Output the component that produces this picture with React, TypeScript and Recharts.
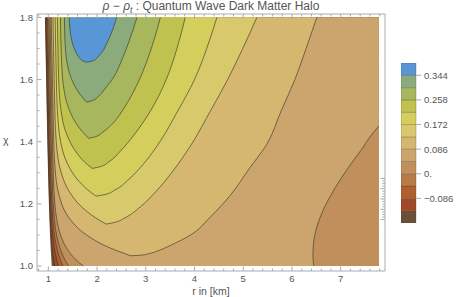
import React from "react";
import { Area, Bar, BarChart, ComposedChart, XAxis, YAxis } from "recharts";

// colour bands, highest level first
const bandColors = [
  "#5896d6", "#8cab7c", "#a6b75e", "#c0c24f", "#d4cf5c", "#d8c96c", "#d5b76f",
  "#cba56d", "#c08f5c", "#b87a48", "#b0602f", "#a04827", "#6a5038",
];
// level boundaries of the bands, top to bottom
const bandEdges = [0.387, 0.344, 0.301, 0.258, 0.215, 0.172, 0.129, 0.086, 0.043, 0, -0.043, -0.086, -0.129, -0.172];
const barTicks = [-0.086, 0, 0.086, 0.172, 0.258, 0.344];

const xMajor = [1, 2, 3, 4, 5, 6, 7];
const xMinor = [0.8, 1.2, 1.4, 1.6, 1.8, 2.2, 2.4, 2.6, 2.8, 3.2, 3.4, 3.6, 3.8, 4.2, 4.4, 4.6, 4.8, 5.2, 5.4, 5.6, 5.8, 6.2, 6.4, 6.6, 6.8, 7.2, 7.4, 7.6, 7.8];
const yMajor = [1.0, 1.2, 1.4, 1.6, 1.8];
const yMinor = [1.05, 1.1, 1.15, 1.25, 1.3, 1.35, 1.45, 1.5, 1.55, 1.65, 1.7, 1.75];

// left edge of the computed region
const edgeChi = [1.0, 1.1, 1.2, 1.4, 1.6, 1.8];
const edgeR = [1.07, 1.035, 1.012, 0.98, 0.955, 0.93];

// contours hugging the left edge (r as a function of chi)
const leftChi = [1.0, 1.01, 1.02, 1.035, 1.05, 1.075, 1.1, 1.15, 1.2, 1.3, 1.4, 1.55, 1.8];
const lvlM129 = [1.13, 1.12, 1.11, 1.098, 1.087, 1.072, 1.059, 1.042, 1.028, 1.01, 0.995, 0.977, 0.945];
const lvlM086 = [1.21, 1.191, 1.174, 1.153, 1.134, 1.11, 1.091, 1.067, 1.05, 1.03, 1.015, 0.997, 0.965];
const lvlM043 = [1.3, 1.272, 1.246, 1.214, 1.187, 1.152, 1.125, 1.093, 1.073, 1.05, 1.035, 1.017, 0.985];
const lvl0 = [1.42, 1.378, 1.341, 1.295, 1.255, 1.206, 1.169, 1.125, 1.101, 1.076, 1.06, 1.042, 1.01];
const lvl043 = [1.72, 1.64, 1.569, 1.48, 1.407, 1.315, 1.25, 1.173, 1.134, 1.102, 1.085, 1.067, 1.035];

// 0.043 contour in the lower right corner
const lowChi = [1.0, 1.03, 1.07, 1.12, 1.18, 1.25, 1.32, 1.38, 1.42, 1.45];
const lowR = [6.45, 6.43, 6.44, 6.5, 6.64, 6.88, 7.17, 7.45, 7.62, 7.78];

// U-shaped contours: chi samples, left branch r, right branch r
const u344Chi = [1.656, 1.66, 1.67, 1.69, 1.72, 1.76, 1.8];
const u344L = [1.79, 1.71, 1.64, 1.56, 1.49, 1.445, 1.43];
const u344R = [1.79, 1.91, 2.0, 2.11, 2.21, 2.32, 2.4];

const u301Chi = [1.527, 1.532, 1.545, 1.57, 1.61, 1.66, 1.72, 1.8];
const u301L = [1.79, 1.76, 1.688, 1.576, 1.456, 1.379, 1.343, 1.33];
const u301R = [1.79, 1.9, 2.02, 2.16, 2.35, 2.5, 2.65, 2.82];

const u258Chi = [1.411, 1.416, 1.43, 1.46, 1.51, 1.58, 1.68, 1.8];
const u258L = [1.83, 1.796, 1.711, 1.567, 1.412, 1.31, 1.266, 1.25];
const u258R = [1.83, 1.965, 2.11, 2.33, 2.56, 2.81, 3.07, 3.3];

const u215Chi = [1.314, 1.32, 1.335, 1.37, 1.42, 1.5, 1.6, 1.7, 1.8];
const u215L = [1.9, 1.854, 1.742, 1.557, 1.386, 1.26, 1.213, 1.197, 1.185];
const u215R = [1.9, 2.07, 2.24, 2.48, 2.75, 3.1, 3.42, 3.64, 3.81];

const u172Chi = [1.225, 1.23, 1.245, 1.28, 1.33, 1.4, 1.5, 1.6, 1.7, 1.8];
const u172L = [1.98, 1.934, 1.811, 1.589, 1.391, 1.252, 1.187, 1.165, 1.152, 1.14];
const u172R = [1.98, 2.16, 2.37, 2.66, 2.96, 3.29, 3.66, 4.0, 4.25, 4.46];

const u129Chi = [1.135, 1.14, 1.155, 1.19, 1.24, 1.3, 1.4, 1.5, 1.6, 1.7, 1.8];
const u129L = [2.19, 2.128, 1.973, 1.686, 1.429, 1.265, 1.163, 1.135, 1.12, 1.107, 1.095];
const u129R = [2.19, 2.35, 2.57, 2.885, 3.21, 3.53, 3.97, 4.33, 4.68, 4.99, 5.28];

const u086Chi = [1.033, 1.035, 1.04, 1.05, 1.066, 1.1, 1.157, 1.227, 1.317, 1.391, 1.5, 1.6, 1.7, 1.8];
const u086L = [2.7, 2.654, 2.57, 2.396, 2.157, 1.784, 1.416, 1.222, 1.137, 1.114, 1.098, 1.085, 1.072, 1.06];
const u086R = [2.7, 2.9, 3.07, 3.27, 3.5, 3.92, 4.32, 4.73, 5.14, 5.48, 5.78, 6.06, 6.29, 6.51];

const X_DOMAIN: [number, number] = [0.768, 7.909];
const Y_DOMAIN: [number, number] = [0.984, 1.811];
const R_EDGE = 7.78;

const FRAME = "#ababab";
const TXT = "#555";
const FONT = "Liberation Sans, Arial, sans-serif";
const LINE = { stroke: "#3b3626", strokeWidth: 0.8, strokeOpacity: 0.8 };

const rows = (chi: number[], r: number[]) => chi.map((c, i) => ({ chi: c, r: r[i] }));
const rangeRows = (chi: number[], lo: number[], hi: number[]) =>
  chi.map((c, i) => ({ chi: c, r: [lo[i], hi[i]] }));

const xTicks = [...xMajor, ...xMinor].sort((a, b) => a - b);
const yTicks = [...yMajor, ...yMinor].sort((a, b) => a - b);

const leftLevels = [
  { data: rows(leftChi, lvlM129), color: bandColors[11] },
  { data: rows(leftChi, lvlM086), color: bandColors[10] },
  { data: rows(leftChi, lvlM043), color: bandColors[9] },
  { data: rows(leftChi, lvl0), color: bandColors[8] },
  { data: rows(leftChi, lvl043), color: bandColors[7] },
];

const uLevels = [
  { data: rangeRows(u086Chi, u086L, u086R), color: bandColors[6] },
  { data: rangeRows(u129Chi, u129L, u129R), color: bandColors[5] },
  { data: rangeRows(u172Chi, u172L, u172R), color: bandColors[4] },
  { data: rangeRows(u215Chi, u215L, u215R), color: bandColors[3] },
  { data: rangeRows(u258Chi, u258L, u258R), color: bandColors[2] },
  { data: rangeRows(u301Chi, u301L, u301R), color: bandColors[1] },
  { data: rangeRows(u344Chi, u344L, u344R), color: bandColors[0] },
];

// one stacked column for the legend: bottom edge, then each band from the lowest up
const nBands = bandColors.length;
const barRow: Record<string, number | string> = { name: "bar", base: bandEdges[nBands] };
for (let i = 0; i < nBands; i++) barRow["b" + i] = bandEdges[i] - bandEdges[i + 1];
const barKeys = bandColors.map((_, i) => nBands - 1 - i);

function BottomTick(p: any) {
  const v = p.payload.value;
  const major = xMajor.includes(v);
  return (
    <g>
      <line x1={p.x} x2={p.x} y1={p.y} y2={p.y - (major ? 4.5 : 2.5)} stroke={FRAME} />
      {major && (
        <text x={p.x} y={p.y + 11} textAnchor="middle" fontFamily={FONT} fontSize={9.5} fill={TXT}>
          {v}
        </text>
      )}
    </g>
  );
}

function TopTick(p: any) {
  const major = xMajor.includes(p.payload.value);
  return <line x1={p.x} x2={p.x} y1={p.y} y2={p.y + (major ? 4.5 : 2.5)} stroke={FRAME} />;
}

function LeftTick(p: any) {
  const v = p.payload.value;
  const major = yMajor.includes(v);
  return (
    <g>
      <line x1={p.x} x2={p.x + (major ? 4.5 : 2.5)} y1={p.y} y2={p.y} stroke={FRAME} />
      {major && (
        <text x={p.x - 4} y={p.y + 3.4} textAnchor="end" fontFamily={FONT} fontSize={9.5} fill={TXT}>
          {v.toFixed(1)}
        </text>
      )}
    </g>
  );
}

function RightTick(p: any) {
  const major = yMajor.includes(p.payload.value);
  return <line x1={p.x} x2={p.x - (major ? 4.5 : 2.5)} y1={p.y} y2={p.y} stroke={FRAME} />;
}

function BarTick(p: any) {
  const v = p.payload.value;
  const label = v === 0 ? "0." : v < 0 ? "\u2212" + Math.abs(v).toFixed(3) : v.toFixed(3);
  return (
    <g>
      <line x1={p.x} x2={p.x + 5} y1={p.y} y2={p.y} stroke={FRAME} />
      <text x={p.x + 8} y={p.y + 3.4} fontFamily={FONT} fontSize={9.5} fill={TXT}>
        {label}
      </text>
    </g>
  );
}

export default function App() {
  return (
    <div style={{ position: "absolute", left: 0, top: 0, width: 463, height: 297, background: "#fff" }}>
      <div
        style={{
          position: "absolute", left: 0, top: 0, width: 422, textAlign: "center",
          fontFamily: FONT, fontSize: 12, lineHeight: "13px", color: TXT, whiteSpace: "nowrap",
        }}
      >
        <i>ρ</i> − <i>ρ</i>
        <i style={{ fontSize: 8.5, position: "relative", top: 3 }}>t</i> : Quantum Wave Dark Matter Halo
      </div>

      <ComposedChart
        layout="vertical"
        width={463}
        height={297}
        data={rows(edgeChi, edgeR)}
        margin={{ top: 13, right: 77, bottom: 25, left: 36 }}
      >
        <XAxis type="number" domain={X_DOMAIN} allowDataOverflow ticks={xTicks} interval={0} height={1}
          tickSize={0} tickMargin={0} tickLine={false} axisLine={{ stroke: FRAME }} tick={(p: any) => <BottomTick {...p} />} />
        <XAxis xAxisId="top" orientation="top" type="number" domain={X_DOMAIN} allowDataOverflow ticks={xTicks}
          interval={0} height={1} tickSize={0} tickMargin={0} tickLine={false} axisLine={{ stroke: FRAME }}
          tick={(p: any) => <TopTick {...p} />} />
        <YAxis type="number" dataKey="chi" domain={Y_DOMAIN} allowDataOverflow reversed ticks={yTicks} interval={0}
          width={1} tickSize={0} tickMargin={0} tickLine={false} axisLine={{ stroke: FRAME }}
          tick={(p: any) => <LeftTick {...p} />} />
        <YAxis yAxisId="right" orientation="right" type="number" domain={Y_DOMAIN} allowDataOverflow reversed
          ticks={yTicks} interval={0} width={1} tickSize={0} tickMargin={0} tickLine={false}
          axisLine={{ stroke: FRAME }} tick={(p: any) => <RightTick {...p} />} />

        <Area dataKey="r" type="monotone" baseValue={R_EDGE} fill={bandColors[12]} fillOpacity={1}
          stroke="none" isAnimationActive={false} />
        {leftLevels.map((l, i) => (
          <Area key={"l" + i} data={l.data} dataKey="r" type="monotone" baseValue={R_EDGE} fill={l.color}
            fillOpacity={1} {...LINE} isAnimationActive={false} />
        ))}
        <Area data={rows(lowChi, lowR)} dataKey="r" type="monotone" baseValue={R_EDGE} fill={bandColors[8]}
          fillOpacity={1} {...LINE} isAnimationActive={false} />
        {uLevels.map((u, i) => (
          <Area key={"u" + i} data={u.data} dataKey="r" type="monotone" fill={u.color} fillOpacity={1}
            {...LINE} isAnimationActive={false} />
        ))}
      </ComposedChart>

      <div style={{ position: "absolute", left: 3, top: 134, fontFamily: FONT, fontSize: 10.5, color: TXT }}>χ</div>
      <div
        style={{
          position: "absolute", left: 0, width: 422, top: 285, textAlign: "center",
          fontFamily: FONT, fontSize: 10.5, lineHeight: "12px", color: TXT,
        }}
      >
        r in [km]
      </div>

      <div style={{ position: "absolute", left: 401, top: 63 }}>
        <BarChart width={62} height={160} data={[barRow]} barCategoryGap={0} stackOffset="none"
          margin={{ top: 0, right: 46, bottom: 0, left: 0 }}>
          <XAxis dataKey="name" hide />
          <YAxis orientation="right" type="number" domain={[bandEdges[nBands], bandEdges[0]]} allowDataOverflow
            ticks={barTicks} interval={0} width={1} tickSize={0} tickMargin={0} tickLine={false}
            axisLine={false} tick={(p: any) => <BarTick {...p} />} />
          <Bar dataKey="base" stackId="c" fill="none" isAnimationActive={false} />
          {barKeys.map((k) => (
            <Bar key={k} dataKey={"b" + k} stackId="c" fill={bandColors[k]} stroke="#4a3f2c"
              strokeOpacity={0.45} strokeWidth={0.6} isAnimationActive={false} />
          ))}
        </BarChart>
      </div>
    </div>
  );
}
